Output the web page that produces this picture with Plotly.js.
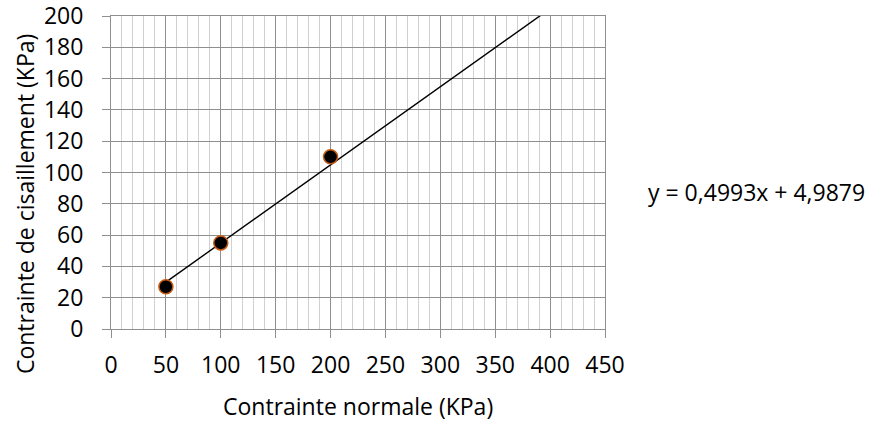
<!DOCTYPE html>
<html>
<head>
<meta charset="utf-8">
<script src="https://cdn.plot.ly/plotly-3.0.1.min.js"></script>
<style>html,body{margin:0;padding:0;background:#fff;}#chart{width:870px;height:423px;}</style>
</head>
<body>
<div id="chart"></div>
<script>
// Data
const normalStress = [50, 100, 200];      // Contrainte normale (KPa)
const shearStress = [27, 55, 110];        // Contrainte de cisaillement (KPa)
// Linear trendline shown on the chart: y = 0,4993x + 4,9879
const trendSlope = 0.4993;
const trendIntercept = 4.9879;
const trendX = [50, 400];
const trendY = trendX.map(x => trendSlope * x + trendIntercept);
const equationText = 'y = 0,4993x + 4,9879';
const xTitle = 'Contrainte normale (KPa)';
const yTitle = 'Contrainte de cisaillement (KPa)';

const FONT = 'Open Sans, Liberation Sans, sans-serif';
const FS = 23;
const majorGrid = '#8f8f8f';
const minorGrid = '#d0d0d0';

const traces = [
  {
    x: trendX, y: trendY, mode: 'lines', type: 'scatter',
    line: {color: '#000000', width: 1.4}, hoverinfo: 'skip', showlegend: false
  },
  {
    x: normalStress, y: shearStress, mode: 'markers', type: 'scatter',
    marker: {color: '#000000', size: 14, line: {color: '#c55a11', width: 1.5}},
    showlegend: false, cliponaxis: false
  }
];

const layout = {
  width: 870, height: 423,
  margin: {l: 111, r: 265, t: 16, b: 94},
  paper_bgcolor: '#ffffff', plot_bgcolor: '#ffffff',
  font: {family: FONT, size: FS, color: '#000000'},
  xaxis: {
    range: [0, 450], dtick: 50, tick0: 0,
    showgrid: true, gridcolor: majorGrid, gridwidth: 1,
    minor: {dtick: 10, showgrid: true, gridcolor: minorGrid, gridwidth: 1, ticks: ''},
    ticks: 'outside', ticklen: 8, tickcolor: majorGrid, tickwidth: 1,
    ticklabelstandoff: 7, ticklabeloverflow: 'allow',
    showline: true, linecolor: majorGrid, linewidth: 1, mirror: true,
    zeroline: false,
    tickfont: {family: FONT, size: FS, color: '#000'}
  },
  yaxis: {
    range: [0, 200], dtick: 20, tick0: 0,
    showgrid: true, gridcolor: majorGrid, gridwidth: 1,
    ticks: 'outside', ticklen: 8, tickcolor: majorGrid, tickwidth: 1,
    ticklabelstandoff: 14, ticklabeloverflow: 'allow',
    showline: true, linecolor: majorGrid, linewidth: 1, mirror: true,
    zeroline: false,
    tickfont: {family: FONT, size: FS, color: '#000'}
  },
  annotations: [
    {
      text: equationText, xref: 'paper', yref: 'paper',
      x: 1.082, y: 0.438, xanchor: 'left', yanchor: 'middle',
      showarrow: false, font: {family: FONT, size: FS, color: '#000'}
    },
    {
      text: xTitle, xref: 'paper', yref: 'paper',
      x: 0.5, y: -0.245, xanchor: 'center', yanchor: 'middle',
      showarrow: false, font: {family: FONT, size: FS, color: '#000'}
    },
    {
      text: yTitle, xref: 'paper', yref: 'paper', textangle: -90,
      x: -0.1735, y: 0.40, xanchor: 'center', yanchor: 'middle',
      showarrow: false, font: {family: FONT, size: FS, color: '#000'}
    }
  ]
};

Plotly.newPlot('chart', traces, layout, {displayModeBar: false, staticPlot: true});
</script>
</body>
</html>
